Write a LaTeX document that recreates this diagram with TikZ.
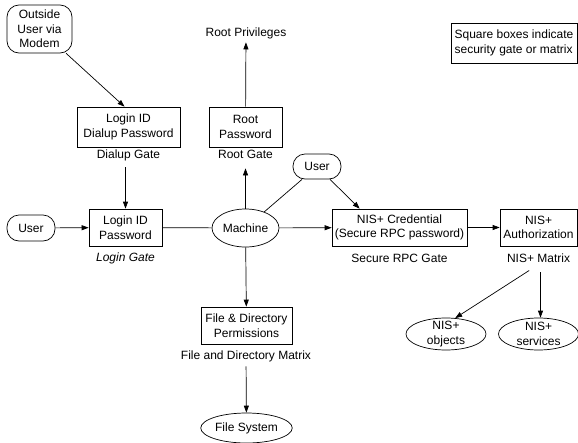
\documentclass[tikz,border=0pt]{standalone}
\usepackage{fontspec}
\setmainfont{Liberation Sans}
\usetikzlibrary{arrows.meta,calc}
\usetikzlibrary{shapes.geometric}

\begin{document}
\begin{tikzpicture}[x=1pt,y=-1pt,line width=0.7pt,>={Triangle[length=7pt,width=5pt]},
  every node/.style={font=\fontsize{12}{14.5}\selectfont,align=center},
  gate/.style={draw,minimum height=37pt,inner sep=2pt},
  who/.style={draw,rounded corners=12pt,inner sep=2pt},
  place/.style={draw,ellipse,inner xsep=1pt,inner ysep=-4pt},
  lbl/.style={anchor=base,inner sep=3pt,text height=9pt,text depth=3pt}]
\useasboundingbox (0,0) rectangle (578,442);
% legend
\node[draw,align=left,minimum width=126pt,minimum height=40pt] (legend) at (514,43) {Square boxes indicate\\security gate or matrix};
% people and places
\node[who,minimum width=65pt,minimum height=48pt] (outside) at (39.5,29) {Outside\\User via\\Modem};
\node[who,minimum width=48pt,minimum height=26pt] (user1) at (31,228) {User};
\node[who,minimum width=48pt,minimum height=25pt] (user2) at (317,166.5) {User};
\node[place,minimum width=65pt,minimum height=38pt] (machine) at (245.5,228) {Machine};
\node[place,minimum width=80pt,minimum height=30pt] (fs) at (246.5,428) {File System};
\node[place,minimum width=80pt,minimum height=32pt] (objects) at (446,334) {NIS+\\objects};
\node[place,minimum width=80pt,minimum height=32pt] (services) at (538.5,334) {NIS+\\services};
% gates
\node[gate,minimum width=103pt,minimum height=40pt] (dialup) at (128.5,127) {Login ID\\Dialup Password};
\node[gate,minimum width=73pt,minimum height=40pt] (root) at (245.5,127) {Root\\Password};
\node[gate,minimum width=73pt] (login) at (125.5,227.5) {Login ID\\Password};
\node[gate,minimum width=135pt] (nisc) at (399.5,227.5) {NIS+ Credential\\(Secure RPC password)};
\node[gate,minimum width=77pt] (nisa) at (538.5,227.5) {NIS+\\Authorization};
\node[gate,minimum width=91pt] (files) at (246.5,325.5) {File \& Directory\\Permissions};
% labels
\node[lbl] (rootpriv) at (246,36) {Root Privileges};
\node[lbl] (dialuplbl) at (128.5,158.5) {Dialup Gate};
\node[lbl] (rootlbl) at (245.5,158.5) {Root Gate};
\node[lbl] (loginlbl) at (125.5,261) {\itshape Login Gate};
\node[lbl] (nisclbl) at (399.5,262) {Secure RPC Gate};
\node[lbl] (nisalbl) at (538.5,262) {NIS+ Matrix};
\node[lbl] (fileslbl) at (246,359) {File and Directory Matrix};
% dial-up and login
\draw[->] (outside) -- ([xshift=-4pt]dialup.north);
\draw[->,shorten <=2.5pt] (login.north |- dialuplbl.south) -- (login.north);
\draw[->] (user1) -- (login);
\draw (login) -- (machine);
% root
\draw[->,shorten >=3.5pt] (machine) -- (rootlbl);
\draw[->] (root) -- (rootpriv);
% nis+
\draw (machine) -- (user2);
\draw[->] (user2) -- ([xshift=28pt]nisc.north west);
\draw[->] (machine) -- (nisc);
\draw[->] (nisc) -- (nisa);
\draw[->,shorten <=4pt] ([xshift=-6pt]nisalbl.south) -- (objects.60);
\draw[->,shorten <=4pt] ([xshift=2pt]nisalbl.south) -- ([xshift=2pt]services.north);
% files
\draw[->] (machine) -- (files);
\draw[->,shorten <=1pt] (fileslbl) -- (fs);
\end{tikzpicture}
\end{document}
